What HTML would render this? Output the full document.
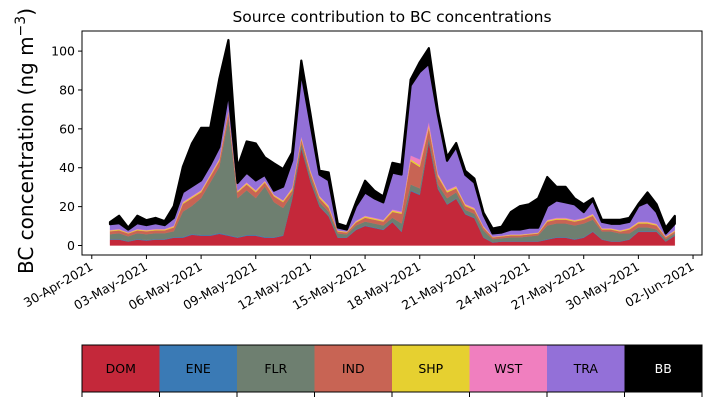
<!DOCTYPE html>
<html><head><meta charset="utf-8"><style>
body{margin:0;background:#fff;width:711px;height:402px;overflow:hidden}
svg{font-family:"DejaVu Sans","Liberation Sans",sans-serif}
</style></head><body>
<svg id="chart" width="711" height="402" viewBox="0 0 711 402">
<text x="392" y="22" font-size="15.5" text-anchor="middle">Source contribution to BC concentrations</text>
<text transform="translate(33,141) rotate(-90)" font-size="20" text-anchor="middle">BC concentration (ng m<tspan dy="-8" font-size="14">−3</tspan><tspan dy="8">)</tspan></text>
<g id="marks"></g>
<g id="axes"></g>
<g id="colorbar"></g>
</svg>
<script>
const sources = ["DOM","ENE","FLR","IND","SHP","WST","TRA","BB"];
const colors = ["#c4283a","#3a7ab5","#6e7f70","#c86454","#e6d030","#f07fbf","#9370d8","#000000"];
const dayOffsets = [0,0.5,1,1.5,2,2.5,3,3.5,4,4.5,5,5.5,6,6.5,7,7.5,8,8.5,9,9.5,10,10.5,11,11.5,12,12.5,13,13.5,14,14.5,15,15.5,16,16.5,17,17.5,18,18.5,19,19.5,20,20.5,21,21.5,22,22.5,23,23.5,24,24.5,25,25.5,26,26.5,27,27.5,28,28.5,29,29.5,30,30.5,31];
const DOM = [3,3,2,3,2.5,3,3,4,4,5.5,5,5,6,5,4,5,5,4,4,5,24,50,33,20,15,4,4,8,10,9,8,12,7,28,26,53,29,21,24,16,14,4,1.5,2,2,2,2,2,3,4,4,3,4,7,3,2,2,3,7,7,7,2,5];
const ENE = [0.3,0.3,0.2,0.3,0.3,0.3,0.3,0.3,0.4,0.4,0.4,0.4,0.4,0.4,0.3,0.4,0.4,0.4,0.3,0.3,0.4,0.5,0.4,0.3,0.3,0.2,0.2,0.3,0.3,0.3,0.3,0.3,0.3,0.4,0.4,0.5,0.4,0.3,0.3,0.3,0.3,0.2,0.2,0.2,0.2,0.2,0.2,0.2,0.3,0.3,0.3,0.3,0.3,0.3,0.2,0.2,0.2,0.2,0.3,0.3,0.3,0.2,0.2];
const FLR = [2.5,3,2.5,3,3,3,3,3,13,14.5,19,27,34,60,20,23,19,26,18,14,2,2,2,2,2,2,1.5,2,2,2,2,2,4,3,3,2,2,3,3,2,2,3.5,1.5,1.5,2,2,2.5,3,7,7,7,7,7,6,4,5,4,3,2,2,1,1,1];
const IND = [1.5,1.5,1.5,1.5,1.5,1.5,1.5,2,4,4,3,3,3,3,3,3,3,2,3,3,2,2,2,2,2,1,1,1.5,2,2,2,3,5,12,11,5,4,3,2,2,2,1.5,1,1,1,1,1,1,2,2,2,2,2,2,1,1,1,2,2,2,2,1,1];
const SHP = [0.4,0.4,0.3,0.4,0.4,0.4,0.4,0.5,0.6,0.6,0.6,0.6,0.7,0.7,0.5,0.6,0.6,0.5,0.5,0.6,0.8,0.8,0.8,0.7,0.8,0.4,0.3,0.5,0.6,0.6,0.5,0.7,0.6,0.9,0.9,1,0.8,0.7,0.8,0.6,0.6,0.4,0.2,0.2,0.3,0.3,0.3,0.3,0.5,0.5,0.5,0.5,0.5,0.6,0.4,0.4,0.4,0.5,0.6,0.6,0.5,0.3,0.4];
const WST = [0.3,0.3,0.2,0.3,0.3,0.3,0.3,0.4,0.5,0.5,0.5,0.5,0.6,0.6,0.4,0.5,0.5,0.4,0.4,0.4,0.6,0.8,0.6,0.5,0.5,0.2,0.2,0.4,0.4,0.4,0.4,0.5,0.6,2,3,2,0.8,0.6,0.6,0.5,0.5,0.3,0.2,0.2,0.2,0.2,0.2,0.2,0.4,0.4,0.4,0.4,0.4,0.4,0.3,0.3,0.3,0.3,0.4,0.4,0.4,0.2,0.3];
const TRA = [3,3,1.5,3,2.5,3,2,4,5,5,5,5,6,9,4,5,5,3,2,7,14,33,24,11,13,1.5,1,7.5,12,10,9,19,19,36,45,30,30,15,20,15,13,6,1.6,1.6,2.5,2.5,3,2.5,7,9,8,8,3,7,3.3,2.3,3.3,3.2,8,10,6,1.5,3.3];
const BB = [1,3.8,1,3.8,2.5,2.7,2,6,13,22,27,19,35,27,8,16,19,9,14,9,4,6,5,2,4,2,1.6,2,6,4,3,5,5,3,5,8,2,2,2,2,2,1,2.5,3,9,12,12,15,15,7,8,3,4,1,1,2,2,2,1,5,4,3,4];
const yTicks = [0,20,40,60,80,100];
const xTickDays = [-1,2,5,8,11,14,17,20,23,26,29,32];
const xTickLabels = ["30-Apr-2021","03-May-2021","06-May-2021","09-May-2021","12-May-2021","15-May-2021","18-May-2021","21-May-2021","24-May-2021","27-May-2021","30-May-2021","02-Jun-2021"];

const NS="http://www.w3.org/2000/svg";
const L=82,R=702,T=31,B=255;
const xS=d=>110+d*18.22;
const yS=v=>245.5-v*1.944;
function mk(tag,attrs,parent){const e=document.createElementNS(NS,tag);for(const k in attrs)e.setAttribute(k,attrs[k]);parent.appendChild(e);return e;}
const series=[DOM,ENE,FLR,IND,SHP,WST,TRA,BB];
const marks=document.getElementById('marks');
let base=dayOffsets.map(()=>0);
series.forEach((s,si)=>{
  const top=base.map((b,i)=>b+s[i]);
  let d="";
  dayOffsets.forEach((t,i)=>{d+=(i?"L":"M")+xS(t).toFixed(2)+","+yS(top[i]).toFixed(2);});
  for(let i=dayOffsets.length-1;i>=0;i--)d+="L"+xS(dayOffsets[i]).toFixed(2)+","+yS(base[i]).toFixed(2);
  d+="Z";
  const p=mk('path',{d:d,fill:colors[si],stroke:colors[si],'stroke-width':si===7?2.2:0.3,'stroke-linejoin':'round'},marks);
  
  
  base=top;
});
const axes=document.getElementById('axes');
const frame=mk('rect',{x:L,y:T,width:R-L,height:B-T,fill:'none',stroke:'#000','stroke-width':1},axes);


yTicks.forEach(v=>{
  const y=yS(v);
  mk('line',{x1:L-4,x2:L,y1:y,y2:y,stroke:'#000'},axes);
  const t=mk('text',{x:L-7,y:y+4.5,'font-size':12.5,'text-anchor':'end'},axes);
  t.textContent=v;
  
  
});
xTickDays.forEach((d,i)=>{
  const x=xS(d);
  mk('line',{x1:x,x2:x,y1:B,y2:B+4,stroke:'#000'},axes);
  const t=mk('text',{x:x+2,y:B+14,'font-size':12.5,'text-anchor':'end',transform:'rotate(-30 '+(x+2)+' '+(B+14)+')'},axes);
  t.textContent=xTickLabels[i];
  
  
});
const cb=document.getElementById('colorbar');
const cw=(R-L)/8;
sources.forEach((s,i)=>{
  const r=mk('rect',{x:L+i*cw,y:345,width:cw,height:47,fill:colors[i]},cb);
  
  
  const t=mk('text',{x:L+i*cw+cw/2,y:373,'font-size':12.5,'text-anchor':'middle',fill:i===7?'#fff':'#000'},cb);
  t.textContent=s;
  
  
});
for(let i=0;i<=8;i++)mk('line',{x1:L+i*cw,x2:L+i*cw,y1:392,y2:397,stroke:'#000'},cb);
const cf=mk('rect',{x:L,y:345,width:R-L,height:47,fill:'none',stroke:'#000','stroke-width':1},cb);


</script>
</body></html>
